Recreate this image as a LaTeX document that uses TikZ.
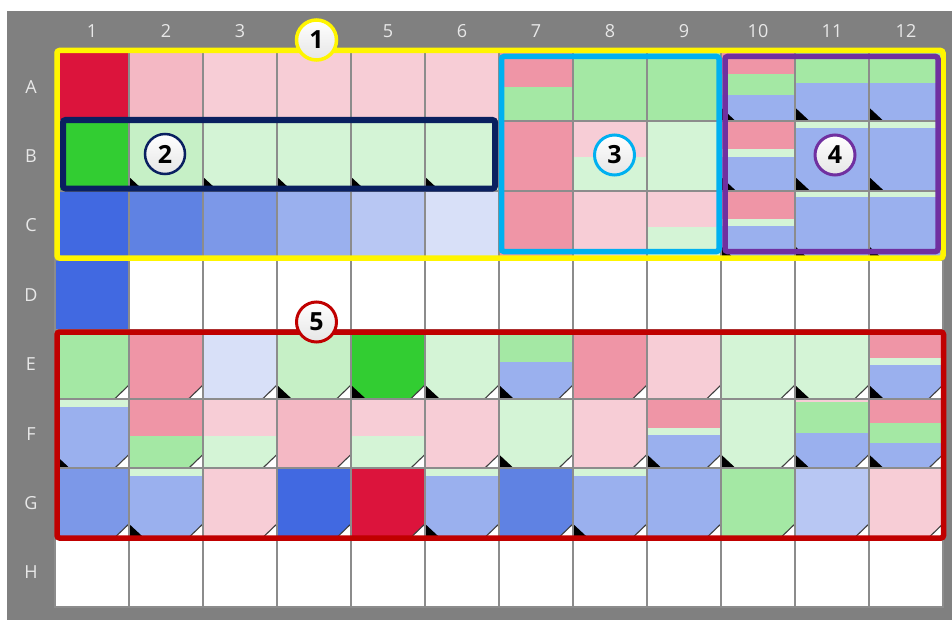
\documentclass[tikz,border=0pt]{standalone}
\usepackage{fontspec}
\setmainfont{Open Sans}
\definecolor{cRed}{HTML}{DC143C}
\definecolor{pM}{HTML}{EF95A6}
\definecolor{pL}{HTML}{F4B8C4}
\definecolor{pV}{HTML}{F7CDD6}
\definecolor{gS}{HTML}{32CD32}
\definecolor{gM}{HTML}{A4E8A4}
\definecolor{gL}{HTML}{C6F0C6}
\definecolor{gV}{HTML}{D4F4D6}
\definecolor{bA}{HTML}{4169E1}
\definecolor{bB}{HTML}{5F82E3}
\definecolor{bC}{HTML}{7C98E8}
\definecolor{bD}{HTML}{9AB0EE}
\definecolor{bE}{HTML}{B8C7F3}
\definecolor{bF}{HTML}{D8E0F8}
\definecolor{bgGray}{HTML}{808080}
\definecolor{gridGray}{HTML}{8C8C8C}
\definecolor{labGray}{HTML}{E8E8E8}
\definecolor{boxYellow}{HTML}{FFF500}
\definecolor{boxNavy}{HTML}{0A2060}
\definecolor{boxCyan}{HTML}{00B0F0}
\definecolor{boxPurple}{HTML}{7030A0}
\definecolor{boxRed}{HTML}{C00000}
\newcommand\wband[5]{\fill[#3] ({55+74*(#1-1)},{52+69.4*(#2-1+#4)}) rectangle ({55+74*#1},{52+69.4*(#2-1+#5)});}
\newcommand\wsolid[3]{\wband{#1}{#2}{#3}{0}{1}}
\newcommand\blk[2]{\fill[black] ({55+74*(#1-1)+1},{52+69.4*#2-13}) -- ++(0,13) -- ++(14,0) -- cycle;}
\newcommand\fold[2]{\fill[white] ({55+74*#1-1},{52+69.4*#2-13}) -- ++(0,13) -- ++(-13,0) -- cycle;
  \draw[black!75,line width=1.1] ({55+74*#1-14},{52+69.4*#2-0.5}) -- ({55+74*#1-0.5},{52+69.4*#2-13.5});}
\begin{document}
\begin{tikzpicture}[x=1pt,y=-1pt,
  lab/.style={text=labGray,font=\fontsize{18}{18}\selectfont},
  numcirc/.style={circle,line width=3,minimum size=40,inner sep=0,top color=white,bottom color=black!10,
     font=\fontsize{25}{25}\selectfont\bfseries,text=black},
  regbox/.style={line width=5.5,rounded corners=2.5}]
\useasboundingbox (0,0) rectangle (952,623);
\fill[white] (0,0) rectangle (952,623);
\fill[bgGray] (7,11) rectangle (952,620);
\fill[white] (55,52) rectangle (943,607.2);
% row A
\wsolid{1}{1}{cRed}\wsolid{2}{1}{pL}\wsolid{3}{1}{pV}\wsolid{4}{1}{pV}\wsolid{5}{1}{pV}\wsolid{6}{1}{pV}
\wband{7}{1}{pM}{0}{0.5}\wband{7}{1}{gM}{0.5}{1}
\wsolid{8}{1}{gM}\wsolid{9}{1}{gM}
\wband{10}{1}{pM}{0}{0.31}\wband{10}{1}{gM}{0.31}{0.62}\wband{10}{1}{bD}{0.62}{1}
\wband{11}{1}{gM}{0}{0.44}\wband{11}{1}{bD}{0.44}{1}
\wband{12}{1}{gM}{0}{0.44}\wband{12}{1}{bD}{0.44}{1}
% row B
\wsolid{1}{2}{gS}\wsolid{2}{2}{gL}\wsolid{3}{2}{gV}\wsolid{4}{2}{gV}\wsolid{5}{2}{gV}\wsolid{6}{2}{gV}
\wsolid{7}{2}{pM}
\wband{8}{2}{pV}{0}{0.51}\wband{8}{2}{gV}{0.51}{1}
\wsolid{9}{2}{gV}
\wband{10}{2}{pM}{0}{0.40}\wband{10}{2}{gV}{0.40}{0.51}\wband{10}{2}{bD}{0.51}{1}
\wband{11}{2}{gV}{0}{0.09}\wband{11}{2}{bD}{0.09}{1}
\wband{12}{2}{gV}{0}{0.09}\wband{12}{2}{bD}{0.09}{1}
% row C
\wsolid{1}{3}{bA}\wsolid{2}{3}{bB}\wsolid{3}{3}{bC}\wsolid{4}{3}{bD}\wsolid{5}{3}{bE}\wsolid{6}{3}{bF}
\wsolid{7}{3}{pM}\wsolid{8}{3}{pV}
\wband{9}{3}{pV}{0}{0.52}\wband{9}{3}{gV}{0.52}{1}
\wband{10}{3}{pM}{0}{0.41}\wband{10}{3}{gV}{0.41}{0.5}\wband{10}{3}{bD}{0.5}{1}
\wband{11}{3}{gV}{0}{0.09}\wband{11}{3}{bD}{0.09}{1}
\wband{12}{3}{gV}{0}{0.09}\wband{12}{3}{bD}{0.09}{1}
% row D
\wsolid{1}{4}{bA}
% row E
\wsolid{1}{5}{gM}\wsolid{2}{5}{pM}\wsolid{3}{5}{bF}\wsolid{4}{5}{gL}\wsolid{5}{5}{gS}\wsolid{6}{5}{gV}
\wband{7}{5}{gM}{0}{0.46}\wband{7}{5}{bD}{0.46}{1}
\wsolid{8}{5}{pM}\wsolid{9}{5}{pV}\wsolid{10}{5}{gV}\wsolid{11}{5}{gV}
\wband{12}{5}{pM}{0}{0.41}\wband{12}{5}{gV}{0.41}{0.51}\wband{12}{5}{bD}{0.51}{1}
% row F
\wband{1}{6}{gV}{0}{0.11}\wband{1}{6}{bD}{0.11}{1}
\wband{2}{6}{pM}{0}{0.53}\wband{2}{6}{gM}{0.53}{1}
\wband{3}{6}{pV}{0}{0.53}\wband{3}{6}{gV}{0.53}{1}
\wsolid{4}{6}{pL}
\wband{5}{6}{pV}{0}{0.53}\wband{5}{6}{gV}{0.53}{1}
\wsolid{6}{6}{pV}\wsolid{7}{6}{gV}\wsolid{8}{6}{pV}
\wband{9}{6}{pM}{0}{0.42}\wband{9}{6}{gV}{0.42}{0.52}\wband{9}{6}{bD}{0.52}{1}
\wsolid{10}{6}{gV}
\wband{11}{6}{pV}{0}{0.05}\wband{11}{6}{gM}{0.05}{0.49}\wband{11}{6}{bD}{0.49}{1}
\wband{12}{6}{pM}{0}{0.35}\wband{12}{6}{gM}{0.35}{0.64}\wband{12}{6}{bD}{0.64}{1}
% row G
\wsolid{1}{7}{bC}
\wband{2}{7}{gV}{0}{0.11}\wband{2}{7}{bD}{0.11}{1}
\wsolid{3}{7}{pV}\wsolid{4}{7}{bA}\wsolid{5}{7}{cRed}
\wband{6}{7}{gV}{0}{0.11}\wband{6}{7}{bD}{0.11}{1}
\wsolid{7}{7}{bB}
\wband{8}{7}{gV}{0}{0.11}\wband{8}{7}{bD}{0.11}{1}
\wsolid{9}{7}{bD}\wsolid{10}{7}{gM}\wsolid{11}{7}{bE}\wsolid{12}{7}{pV}
% black corner marks
\blk{10}{1}\blk{11}{1}\blk{12}{1}
\blk{2}{2}\blk{3}{2}\blk{4}{2}\blk{5}{2}\blk{6}{2}\blk{10}{2}\blk{11}{2}\blk{12}{2}
\blk{10}{3}\blk{11}{3}\blk{12}{3}
\blk{4}{5}\blk{5}{5}\blk{6}{5}\blk{7}{5}\blk{11}{5}\blk{12}{5}
\blk{1}{6}\blk{7}{6}\blk{9}{6}\blk{10}{6}\blk{11}{6}\blk{12}{6}
\blk{2}{7}\blk{6}{7}\blk{8}{7}
% folded corners
\foreach \c in {1,...,12}{\fold{\c}{5}\fold{\c}{6}\fold{\c}{7}}
% grid
\foreach \k in {1,...,11}{\draw[gridGray,line width=2] ({55+74*\k},52) -- ({55+74*\k},607.2);}
\foreach \k in {1,...,7}{\draw[gridGray,line width=2] (55,{52+69.4*\k}) -- (943,{52+69.4*\k});}
\draw[gridGray,line width=2] (55,52) rectangle (943,607.2);
% labels
\foreach \k in {1,...,12}{\node[lab] (col\k) at ({55+74*\k-37},31) {\k};}
\foreach \r/\t in {1/A,2/B,3/C,4/D,5/E,6/F,7/G,8/H}{\node[lab] (row\t) at (31,{52+69.4*\r-34.7}) {\t};}
% region boxes
\draw[regbox,boxYellow] (57,50.5) rectangle (943,258);
\draw[regbox,boxNavy,line width=6] (63,120) rectangle (495,188.5);
\draw[regbox,boxCyan] (501.5,56.5) rectangle (719,251.5);
\draw[regbox,boxPurple] (725,56.5) rectangle (938,251.5);
\draw[regbox,boxRed] (57,332) rectangle (943.5,538);
% circled numbers
\node[numcirc,draw=boxYellow,line width=3.5] (n1) at (316.5,40) {1};
\node[numcirc,draw=boxNavy,line width=2.5] (n2) at (165,154) {2};
\node[numcirc,draw=boxCyan] (n3) at (614.5,155) {3};
\node[numcirc,draw=boxPurple] (n4) at (835,155) {4};
\node[numcirc,draw=boxRed] (n5) at (316.5,322) {5};
\end{tikzpicture}
\end{document}
